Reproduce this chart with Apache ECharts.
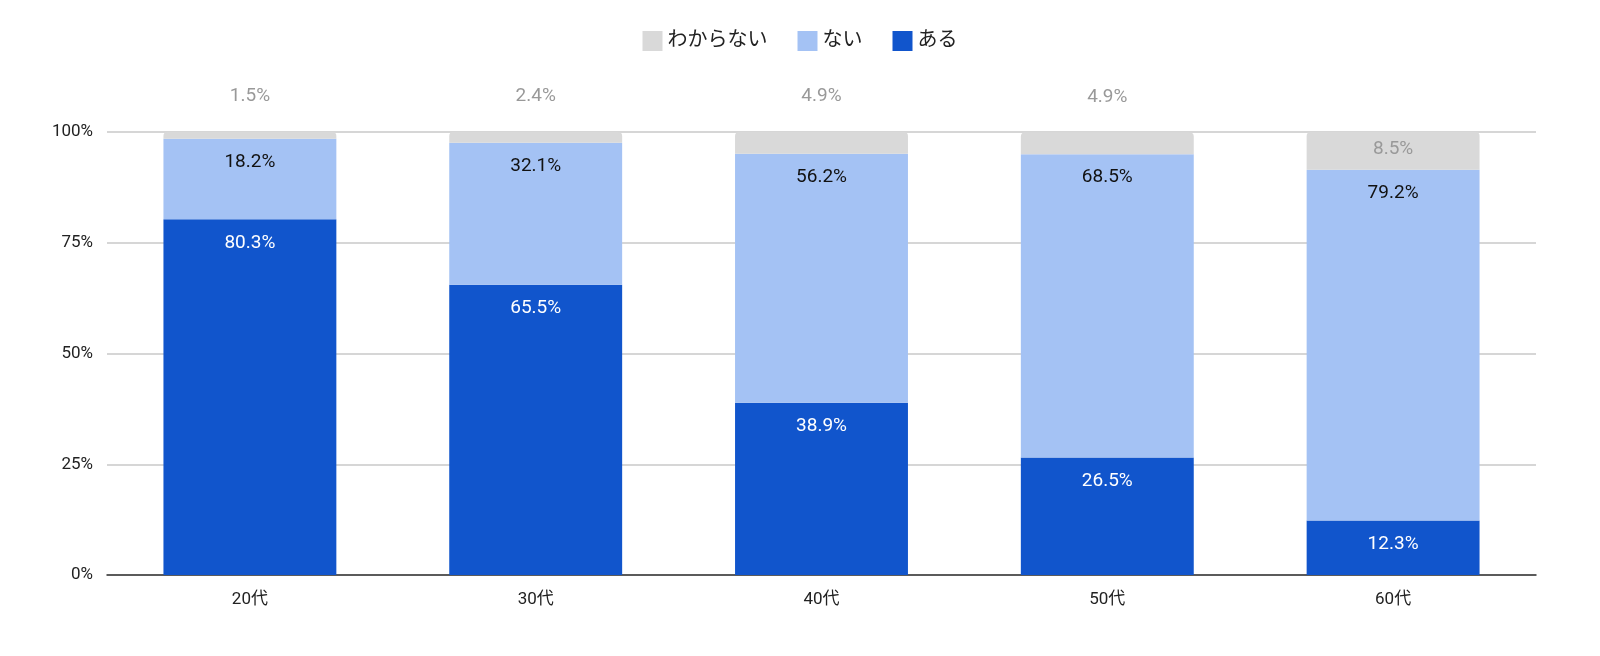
<!DOCTYPE html>
<html>
<head>
<meta charset="utf-8">
<script src="https://cdn.jsdelivr.net/npm/echarts@6/dist/echarts.min.js"></script>
<style>html,body{margin:0;padding:0;background:#fff}#chart{width:1600px;height:656px}</style>
</head>
<body>
<div id="chart"></div>
<script>
var categories = ['20代', '30代', '40代', '50代', '60代'];
var aru = [80.3, 65.5, 38.9, 26.5, 12.3];
var nai = [18.2, 32.1, 56.2, 68.5, 79.2];
var wakaranai = [1.5, 2.4, 4.9, 4.9, 8.5];
var yTicks = ['0%', '25%', '50%', '75%', '100%'];

var fontFam = 'Roboto, "Noto Sans CJK JP", sans-serif';

//わからない: 小さい値はバーの上、大きい値は内側
var wakaData = wakaranai.map(function(v) {
	if (v < 6) {
		return {value: v, label: {position: 'top', distance: 26}};
	}
	return {value: v, label: {position: 'insideTop', distance: 8}};
});

var myChart = echarts.init(document.getElementById('chart'));
var option = {
	textStyle: {fontFamily: fontFam},
	legend: {
		data: ['わからない', 'ない', 'ある'],
		top: 26,
		left: 'center',
		icon: 'rect',
		itemWidth: 20,
		itemHeight: 20,
		itemGap: 30,
		textStyle: {fontSize: 20, color: '#222', fontFamily: fontFam}
	},
	grid: {left: 107, right: 64, top: 132, bottom: 81},
	xAxis: {
		type: 'category',
		data: categories,
		axisLine: {lineStyle: {color: '#333', width: 1.5}},
		axisTick: {show: false},
		axisLabel: {fontSize: 17, color: '#222', margin: 16}
	},
	yAxis: {
		type: 'value',
		min: 0,
		max: 100,
		interval: 25,
		axisLabel: {
			fontSize: 17, color: '#222', margin: 14,
			formatter: function(v) { return yTicks[v / 25]; }
		},
		splitLine: {lineStyle: {color: '#c8c8c8', width: 1.5}}
	},
	series: [
		{
			name: 'ある', type: 'bar', stack: 'all', barWidth: '60.5%',
			data: aru,
			itemStyle: {color: '#1155cc'},
			label: {show: true, position: 'insideTop', distance: 14, color: '#fff', fontSize: 19, formatter: '{c}%'}
		},
		{
			name: 'ない', type: 'bar', stack: 'all',
			data: nai,
			itemStyle: {color: '#a4c2f4'},
			label: {show: true, position: 'insideTop', distance: 14, color: '#111', fontSize: 19, formatter: '{c}%'}
		},
		{
			name: 'わからない', type: 'bar', stack: 'all',
			data: wakaData,
			itemStyle: {color: '#d9d9d9', borderRadius: [4, 4, 0, 0]},
			label: {show: true, color: '#999', fontSize: 19, formatter: '{c}%'}
		}
	]
};
myChart.setOption(option);
</script>
</body>
</html>
